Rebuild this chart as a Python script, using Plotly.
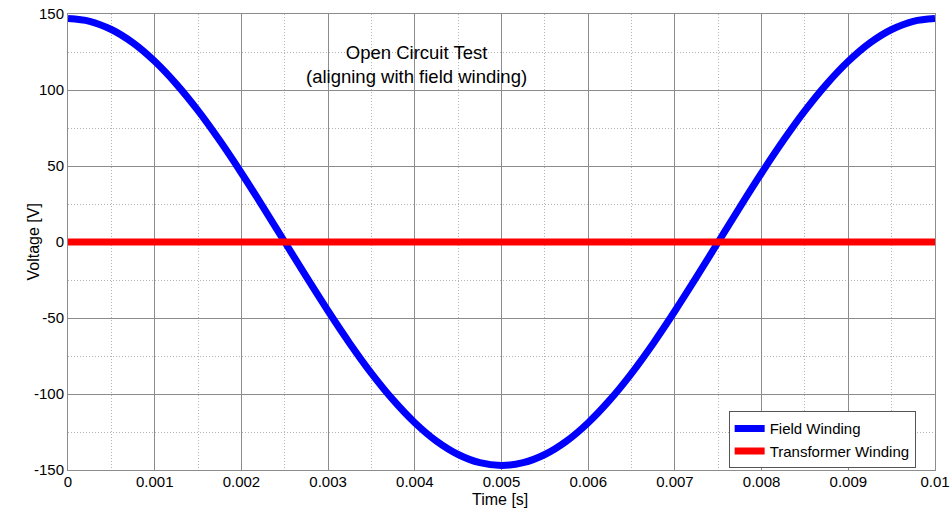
import plotly.graph_objects as go

# Time samples [s]
time_s = [0.0, 0.00025, 0.0005, 0.00075, 0.001, 0.00125, 0.0015, 0.00175, 0.002, 0.00225,
          0.0025, 0.00275, 0.003, 0.00325, 0.0035, 0.00375, 0.004, 0.00425, 0.0045, 0.00475,
          0.005, 0.00525, 0.0055, 0.00575, 0.006, 0.00625, 0.0065, 0.00675, 0.007, 0.00725,
          0.0075, 0.00775, 0.008, 0.00825, 0.0085, 0.00875, 0.009, 0.00925, 0.0095, 0.00975, 0.01]
# Field winding voltage [V]
field_v = [147, 145.2, 139.8, 131, 118.9, 103.9, 86.4, 66.7, 45.4, 23,
           0, -23, -45.4, -66.7, -86.4, -103.9, -118.9, -131, -139.8, -145.2,
           -147, -145.2, -139.8, -131, -118.9, -103.9, -86.4, -66.7, -45.4, -23,
           0, 23, 45.4, 66.7, 86.4, 103.9, 118.9, 131, 139.8, 145.2, 147]
# Transformer winding voltage [V]
transformer_v = [0.0] * len(time_s)

x_ticks = [0, 0.001, 0.002, 0.003, 0.004, 0.005, 0.006, 0.007, 0.008, 0.009, 0.01]
x_ticklabels = ["0", "0.001", "0.002", "0.003", "0.004", "0.005", "0.006", "0.007", "0.008", "0.009", "0.01"]
y_ticks = [-150, -100, -50, 0, 50, 100, 150]
y_ticklabels = ["-150", "-100", "-50", "0", "50", "100", "150"]

FONT = "Liberation Sans, Arial, sans-serif"

fig = go.Figure()
fig.add_trace(go.Scatter(x=time_s, y=field_v, mode="lines", name="Field Winding",
                         line=dict(color="#0000ff", width=7, shape="spline")))
fig.add_trace(go.Scatter(x=time_s, y=transformer_v, mode="lines", name="Transformer Winding",
                         line=dict(color="#ff0000", width=7)))

axis_common = dict(
    showline=True, linecolor="#8c8c8c", linewidth=1, mirror=True,
    showgrid=True, gridcolor="#8c8c8c", gridwidth=1,
    zeroline=False, ticks="", automargin=False,
    tickfont=dict(family=FONT, size=15, color="#000"),
)

fig.update_xaxes(range=[0, 0.01], tickvals=x_ticks, ticktext=x_ticklabels,
                 ticklabelstandoff=-2,
                 minor=dict(dtick=0.0005, showgrid=True, gridcolor="#b4b4b4",
                            griddash="1px,2px", gridwidth=1),
                 **axis_common)
fig.update_yaxes(range=[-150, 150], tickvals=y_ticks, ticktext=y_ticklabels,
                 minor=dict(dtick=25, showgrid=True, gridcolor="#b4b4b4",
                            griddash="1px,2px", gridwidth=1),
                 **axis_common)

fig.add_annotation(x=0.004025, y=117, xref="x", yref="y",
                   text="Open Circuit Test<br>(aligning with field winding)",
                   showarrow=False, font=dict(family=FONT, size=18.5, color="#000"), align="center")
fig.add_annotation(x=-0.053, y=0.5, xref="paper", yref="paper", text="Voltage [V]",
                   textangle=-90, showarrow=False, font=dict(family=FONT, size=16, color="#000"))
fig.add_annotation(x=0.498, y=-0.065, xref="paper", yref="paper", text="Time [s]",
                   yanchor="middle", showarrow=False, font=dict(family=FONT, size=16, color="#000"))

fig.update_layout(
    template="none",
    width=952, height=508,
    margin=dict(l=68, r=17, t=14, b=38),
    paper_bgcolor="white", plot_bgcolor="white",
    showlegend=True,
    legend=dict(x=0.762, y=0.129, xanchor="left", yanchor="top",
                bgcolor="white", bordercolor="#555", borderwidth=1,
                font=dict(family=FONT, size=15, color="#000"),
                tracegroupgap=0, itemwidth=30),
)

fig.write_html("out.html")
